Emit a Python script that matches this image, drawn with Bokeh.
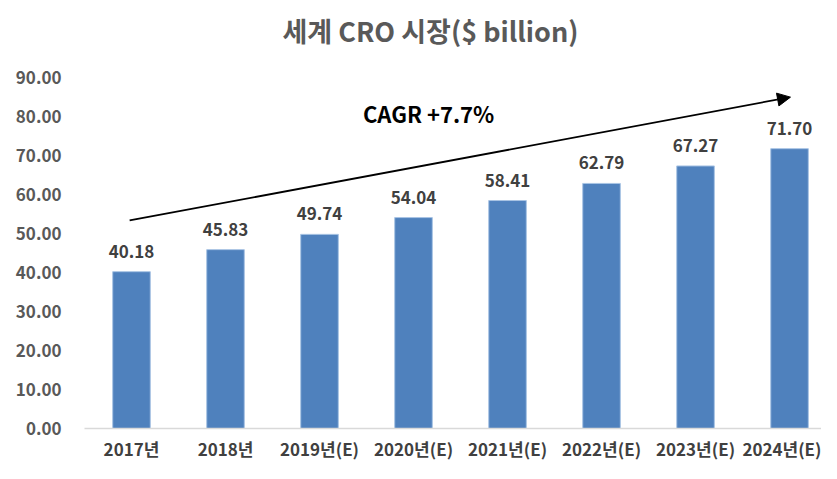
from bokeh.plotting import figure
from bokeh.models import (ColumnDataSource, LabelSet, Label, Arrow, NormalHead,
                          FixedTicker, PrintfTickFormatter, Range1d)
from bokeh.core.properties import value
from bokeh.embed import file_html
from bokeh.resources import INLINE

# ---- data ----
categories = ["2017년", "2018년", "2019년(E)", "2020년(E)", "2021년(E)",
              "2022년(E)", "2023년(E)", "2024년(E)"]
values = [40.18, 45.83, 49.74, 54.04, 58.41, 62.79, 67.27, 71.70]
y_ticks = [0, 10, 20, 30, 40, 50, 60, 70, 80, 90]
title_text = "세계 CRO 시장($ billion)"
cagr_text = "CAGR +7.7%"

FONT = "Noto Sans CJK KR"
BAR = "#4F81BD"

xs = list(range(len(categories)))
src = ColumnDataSource(dict(x=xs, top=values, lbl=[f"{v:.2f}" for v in values]))

# the frame extends above 90 to leave room for the title inside it
p = figure(width=821, height=463, output_backend="svg", toolbar_location=None,
           x_range=Range1d(-0.5, 7.34), y_range=Range1d(0, 107.1),
           min_border_left=84, min_border_right=0, min_border_top=10,
           min_border_bottom=30)
p.outline_line_color = None
p.background_fill_color = "white"
p.border_fill_color = "white"
p.xgrid.grid_line_color = None
p.ygrid.grid_line_color = None

p.vbar(x="x", top="top", width=0.4, source=src, fill_color=BAR,
       line_color="#A9C4E4", line_width=1)

# title
title = Label(x=3.18, y=102, text=title_text, text_align="center",
              text_baseline="middle", text_font=FONT, text_font_size="27px",
              text_font_style="bold", text_color="#595959")
p.add_layout(title)

# x axis
p.xaxis.ticker = FixedTicker(ticks=xs)
p.xaxis.major_label_overrides = {i: c for i, c in zip(xs, categories)}
p.xaxis.major_tick_line_color = None
p.xaxis.minor_tick_line_color = None
p.xaxis.major_tick_out = 0
p.xaxis.axis_line_color = "#D9D9D9"
p.xaxis.axis_line_width = 1.5
p.xaxis.major_label_text_font = FONT
p.xaxis.major_label_text_font_size = "17px"
p.xaxis.major_label_text_font_style = "bold"
p.xaxis.major_label_text_color = "#404040"
p.xaxis.major_label_standoff = 7

# y axis
p.yaxis.ticker = FixedTicker(ticks=y_ticks)
p.yaxis.formatter = PrintfTickFormatter(format="%.2f")
p.yaxis.axis_line_color = None
p.yaxis.major_tick_line_color = None
p.yaxis.minor_tick_line_color = None
p.yaxis.major_label_text_font = FONT
p.yaxis.major_label_text_font_size = "17px"
p.yaxis.major_label_text_font_style = "bold"
p.yaxis.major_label_text_color = "#595959"
p.yaxis.major_label_standoff = 17

# data labels
labels = LabelSet(x="x", y="top", text="lbl", source=src, text_align="center",
                  text_baseline="bottom", y_offset=14,
                  text_font=value(FONT), text_font_size=value("17px"),
                  text_font_style=value("bold"), text_color=value("#404040"))
p.add_layout(labels)

# CAGR arrow
arrow = Arrow(end=NormalHead(size=13, fill_color="black", line_color="black"),
              x_start=-0.02, y_start=53.3, x_end=7.01, y_end=84.9,
              line_color="black", line_width=1.8)
p.add_layout(arrow)

cagr = Label(x=3.16, y=80.9, text=cagr_text, text_align="center",
             text_baseline="middle", text_font=FONT, text_font_size="22px",
             text_font_style="bold", text_color="black")
p.add_layout(cagr)

open("out.html", "w").write(file_html(p, INLINE))
